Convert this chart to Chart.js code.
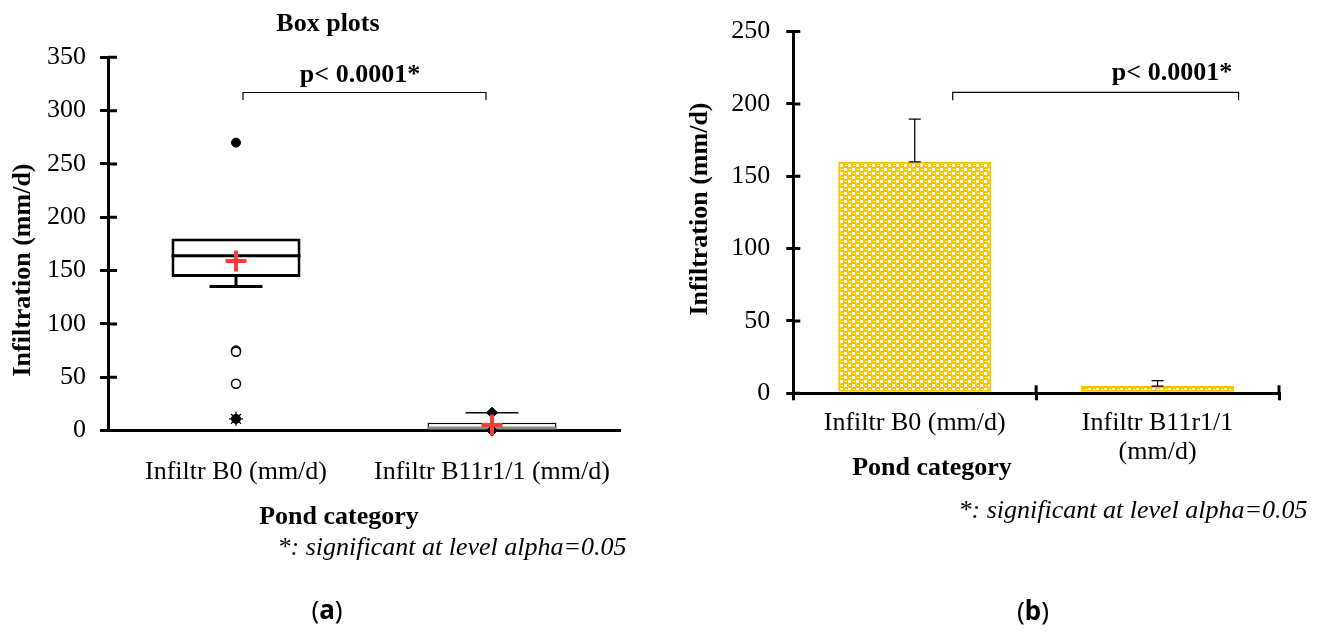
<!DOCTYPE html>
<html>
<head>
<meta charset="utf-8">
<script src="https://cdn.jsdelivr.net/npm/chart.js@4.4.0/dist/chart.umd.min.js"></script>
<style>
  html, body { margin: 0; padding: 0; background: #fff; }
  body { width: 1326px; height: 631px; position: relative; overflow: hidden; }
  .wrap { position: absolute; top: 0; height: 631px; }
  #boxWrap { left: 0; width: 660px; }
  #barWrap { left: 660px; width: 666px; }
</style>
</head>
<body>
<div class="wrap" id="boxWrap"><canvas id="boxChart" width="660" height="631"></canvas></div>
<div class="wrap" id="barWrap"><canvas id="barChart" width="666" height="631"></canvas></div>
<script>
  // ---- data (a): box plots ----
  var categories = ['Infiltr B0 (mm/d)', 'Infiltr B11r1/1 (mm/d)'];
  var q1 = [144, 1];
  var median = [164, 2.5];
  var q3 = [180, 7.4];
  var whiskerLow = [135, 1];
  var whiskerHigh = [180, 16.8];
  var means = [159, 5.3];
  var minMax = [[270, 11], [16.8, 0]];
  var outliersOpen = [[75, 74, 44], []];
  var outliersFar = [[11], []];
  var yTicksA = { min: 0, max: 350, step: 50 };

  // ---- data (b): means with error bars ----
  var barCategories = [['Infiltr B0 (mm/d)'], ['Infiltr B11r1/1', '(mm/d)']];
  var barMeans = [160, 5];
  var barErrors = [29.5, 3.8];
  var yTicksB = { min: 0, max: 250, step: 50 };

  var SERIF = '"Liberation Serif", "Times New Roman", serif';
  var SANS = '"Noto Sans", "Liberation Sans", sans-serif';
  var RED = '#FF3B3B';
  var GOLD = '#FFC000';

  function pts(lists) {
    var out = [];
    lists.forEach(function (vals, i) {
      vals.forEach(function (v) { out.push({ x: categories[i], y: v, k: i }); });
    });
    return out;
  }

  function drawTexts(ctx, items) {
    items.forEach(function (it) {
      var parts = it.parts || [{ t: it.text, f: it.font }];
      ctx.save();
      ctx.fillStyle = '#000';
      ctx.textBaseline = it.baseline || 'alphabetic';
      ctx.textAlign = 'left';
      var widths = parts.map(function (p) { ctx.font = p.f; return ctx.measureText(p.t).width; });
      var total = widths.reduce(function (a, b) { return a + b; }, 0);
      ctx.translate(it.x, it.y);
      if (it.rotate) ctx.rotate(it.rotate);
      var x = -total / 2;
      parts.forEach(function (p, i) { ctx.font = p.f; ctx.fillText(p.t, x, 0); x += widths[i]; });
      ctx.restore();
    });
  }

  function bracket(chart, x0, x1, yTop, yFoot) {
    var xs = chart.scales.x, ys = chart.scales.y, ctx = chart.ctx;
    var a = xs.getPixelForValue(0) + x0, b = xs.getPixelForValue(1) + x1;
    var t = ys.getPixelForValue(yTop), f = ys.getPixelForValue(yFoot);
    ctx.save();
    ctx.strokeStyle = '#000';
    ctx.lineWidth = 1.2;
    ctx.beginPath();
    ctx.moveTo(a, f); ctx.lineTo(a, t); ctx.lineTo(b, t); ctx.lineTo(b, f);
    ctx.stroke();
    ctx.restore();
  }

  function innerTicks(chart, yLen, xLen) {
    var ctx = chart.ctx, area = chart.chartArea, ys = chart.scales.y, xs = chart.scales.x;
    ctx.save();
    ctx.strokeStyle = '#000';
    ctx.lineWidth = 3;
    ctx.beginPath();
    ys.ticks.forEach(function (t, i) {
      var y = ys.getPixelForTick(i);
      ctx.moveTo(area.left, y); ctx.lineTo(area.left + yLen, y);
    });
    if (xLen) {
      var mid = (xs.getPixelForValue(0) + xs.getPixelForValue(1)) / 2;
      [mid, area.right].forEach(function (x) {
        ctx.moveTo(x, area.bottom); ctx.lineTo(x, area.bottom - xLen);
      });
    }
    ctx.stroke();
    ctx.restore();
  }

  // ---- chart (a) ----
  var boxLineWidth = [3, 1.5];
  var medianColor = ['#000', '#8c8c8c'];

  var boxParts = {
    id: 'boxParts',
    afterDatasetDraw: function (chart, args) {
      if (args.index !== 0) return;
      var ctx = chart.ctx, ys = chart.scales.y;
      args.meta.data.forEach(function (bar, i) {
        var cx = bar.x, w = bar.width, cap = w * 0.41;
        ctx.save();
        ctx.strokeStyle = medianColor[i];
        ctx.lineWidth = 3;
        ctx.beginPath();
        ctx.moveTo(cx - w / 2, ys.getPixelForValue(median[i]));
        ctx.lineTo(cx + w / 2, ys.getPixelForValue(median[i]));
        ctx.stroke();
        ctx.strokeStyle = '#000';
        ctx.lineWidth = boxLineWidth[i];
        [[q1[i], whiskerLow[i]], [q3[i], whiskerHigh[i]]].forEach(function (seg) {
          if (seg[0] === seg[1]) return;
          var y0 = ys.getPixelForValue(seg[0]), y1 = ys.getPixelForValue(seg[1]);
          ctx.beginPath();
          ctx.moveTo(cx, y0); ctx.lineTo(cx, y1);
          ctx.moveTo(cx - cap / 2, y1); ctx.lineTo(cx + cap / 2, y1);
          ctx.stroke();
        });
        ctx.restore();
      });
    }
  };

  var boxExtras = {
    id: 'boxExtras',
    afterDraw: function (chart) {
      innerTicks(chart, 9, 0);
      bracket(chart, 7, -6, 317, 310);
      drawTexts(chart.ctx, [
        { text: 'Box plots', font: 'bold 26px ' + SERIF, x: 328, y: 31 },
        { text: 'p< 0.0001*', font: 'bold 26px ' + SERIF, x: 360, y: 81.5 },
        { text: 'Infiltration (mm/d)', font: 'bold 26px ' + SERIF, x: 23, y: 270, rotate: -Math.PI / 2, baseline: 'middle' },
        { text: 'Pond category', font: 'bold 26px ' + SERIF, x: 339, y: 524 },
        { text: '*: significant at level alpha=0.05', font: 'italic 26px ' + SERIF, x: 452, y: 555 },
        { parts: [{ t: '(', f: '26px ' + SANS }, { t: 'a', f: 'bold 26px ' + SANS }, { t: ')', f: '26px ' + SANS }], x: 327, y: 619 }
      ]);
    }
  };

  new Chart(document.getElementById('boxChart').getContext('2d'), {
    type: 'bar',
    data: {
      labels: categories,
      datasets: [
        {
          label: 'Box',
          data: categories.map(function (c, i) { return [q1[i], q3[i]]; }),
          backgroundColor: '#fff',
          borderColor: '#000',
          borderWidth: boxLineWidth,
          borderSkipped: false,
          barPercentage: 0.504,
          categoryPercentage: 1,
          order: 5
        },
        {
          type: 'line', label: 'Outliers', data: pts(outliersOpen), showLine: false, clip: false,
          pointStyle: 'circle', pointRadius: 4.5, pointBackgroundColor: '#fff',
          pointBorderColor: '#000', pointBorderWidth: 1.5, order: 3
        },
        {
          type: 'line', label: 'Far outliers', data: pts(outliersFar), showLine: false, clip: false,
          pointStyle: 'star', pointRadius: 7, pointBorderColor: '#000', pointBorderWidth: 1.3, order: 2
        },
        {
          type: 'line', label: 'Min/Max', data: pts(minMax), showLine: false, clip: false,
          pointStyle: function (ctx) { return ctx.raw && ctx.raw.k === 1 ? 'rectRot' : 'circle'; },
          pointRadius: function (ctx) { return ctx.raw && ctx.raw.k === 1 ? 5.5 : 4.5; },
          pointBackgroundColor: '#000', pointBorderColor: '#000', pointBorderWidth: 1, order: 1
        },
        {
          type: 'line', label: 'Mean', data: pts(means.map(function (m) { return [m]; })), showLine: false, clip: false,
          pointStyle: 'cross', pointRadius: 10.5, pointBorderColor: RED, pointBorderWidth: 4, order: 0
        }
      ]
    },
    options: {
      responsive: false,
      animation: false,
      events: [],
      layout: { padding: { left: 0, top: 57.3, right: 40, bottom: 0 } },
      plugins: { legend: { display: false }, tooltip: { enabled: false } },
      scales: {
        x: {
          offset: true,
          grid: { display: false },
          border: { display: true, color: '#000', width: 3 },
          ticks: { color: '#000', font: { family: SERIF, size: 26 }, padding: 18, autoSkip: false, maxRotation: 0 },
          afterFit: function (s) { s.height = 200.4; }
        },
        y: {
          min: yTicksA.min, max: yTicksA.max,
          ticks: { stepSize: yTicksA.step, color: '#000', font: { family: SERIF, size: 26 }, padding: 14 },
          grid: { drawOnChartArea: false, color: '#000', lineWidth: 3, tickLength: 8 },
          border: { display: true, color: '#000', width: 3 },
          afterFit: function (s) { s.width = 108; }
        }
      }
    },
    plugins: [boxParts, boxExtras]
  });

  // ---- chart (b) ----
  // yellow checker with small white holes, like the original fill
  function makePattern(ctx) {
    var c = document.createElement('canvas');
    c.width = 8; c.height = 8;
    var g = c.getContext('2d');
    g.fillStyle = GOLD;
    g.fillRect(0, 0, 8, 8);
    g.fillStyle = '#fff';
    g.fillRect(0, 0, 3, 3);
    g.fillRect(4, 4, 3, 3);
    g.fillRect(5, 1, 2, 1);
    g.fillRect(1, 5, 2, 1);
    return ctx.createPattern(c, 'repeat');
  }

  var barExtras = {
    id: 'barExtras',
    afterDatasetsDraw: function (chart) {
      var ctx = chart.ctx, ys = chart.scales.y;
      chart.getDatasetMeta(0).data.forEach(function (bar, i) {
        var y0 = ys.getPixelForValue(barMeans[i]);
        var y1 = ys.getPixelForValue(barMeans[i] + barErrors[i]);
        ctx.save();
        ctx.strokeStyle = '#000';
        ctx.lineWidth = 1.3;
        ctx.beginPath();
        ctx.moveTo(bar.x, y0); ctx.lineTo(bar.x, y1);
        ctx.moveTo(bar.x - 6, y1); ctx.lineTo(bar.x + 6, y1);
        ctx.moveTo(bar.x - 6, y0); ctx.lineTo(bar.x + 6, y0);
        ctx.stroke();
        ctx.restore();
      });
    },
    afterDraw: function (chart) {
      innerTicks(chart, 7, 8);
      bracket(chart, 38, 81, 208, 202.5);
      drawTexts(chart.ctx, [
        { text: 'p< 0.0001*', font: 'bold 26px ' + SERIF, x: 512, y: 80 },
        { text: 'Infiltration (mm/d)', font: 'bold 26px ' + SERIF, x: 40, y: 209, rotate: -Math.PI / 2, baseline: 'middle' },
        { text: 'Pond category', font: 'bold 26px ' + SERIF, x: 272, y: 475 },
        { text: '*: significant at level alpha=0.05', font: 'italic 26px ' + SERIF, x: 473, y: 518 },
        { parts: [{ t: '(', f: '26px ' + SANS }, { t: 'b', f: 'bold 26px ' + SANS }, { t: ')', f: '26px ' + SANS }], x: 373, y: 620 }
      ]);
    }
  };

  var barCtx = document.getElementById('barChart').getContext('2d');
  new Chart(barCtx, {
    type: 'bar',
    data: {
      labels: barCategories,
      datasets: [{
        label: 'Infiltration',
        data: barMeans,
        backgroundColor: makePattern(barCtx),
        borderColor: GOLD,
        borderWidth: 2,
        borderSkipped: false,
        barPercentage: 0.63,
        categoryPercentage: 1
      }]
    },
    options: {
      responsive: false,
      animation: false,
      events: [],
      layout: { padding: { left: 0, top: 24.3, right: 47, bottom: 0 } },
      plugins: { legend: { display: false }, tooltip: { enabled: false } },
      scales: {
        x: {
          grid: { display: true, offset: true, drawOnChartArea: false, color: '#000', lineWidth: 3, tickLength: 7 },
          border: { display: true, color: '#000', width: 3 },
          ticks: { color: '#000', font: { family: SERIF, size: 26, lineHeight: 1.1 }, padding: 9, autoSkip: false, maxRotation: 0 },
          afterFit: function (s) { s.height = 237.7; }
        },
        y: {
          min: yTicksB.min, max: yTicksB.max,
          ticks: { stepSize: yTicksB.step, color: '#000', font: { family: SERIF, size: 26 }, padding: 16 },
          grid: { drawOnChartArea: false, color: '#000', lineWidth: 3, tickLength: 7 },
          border: { display: true, color: '#000', width: 3 },
          afterFit: function (s) { s.width = 133.3; }
        }
      }
    },
    plugins: [barExtras]
  });
</script>
</body>
</html>
